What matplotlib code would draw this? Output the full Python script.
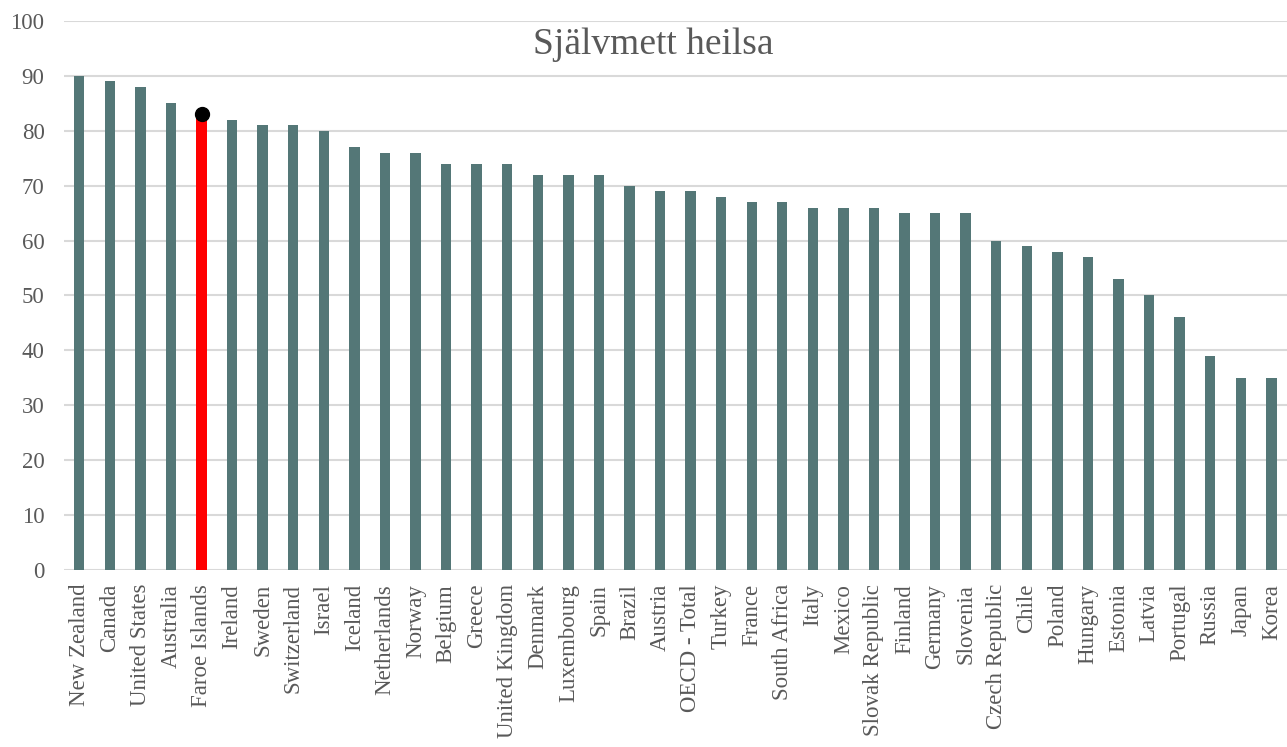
# Self-rated health bar chart, Faroe Islands highlighted
import numpy as np
import matplotlib.pyplot as plt

plt.rcParams['font.family'] = ['Liberation Serif', 'DejaVu Serif']

# Data
countries = ["New Zealand", "Canada", "United States", "Australia", "Faroe Islands",
             "Ireland", "Sweden", "Switzerland", "Israel", "Iceland", "Netherlands",
             "Norway", "Belgium", "Greece", "United Kingdom", "Denmark", "Luxembourg",
             "Spain", "Brazil", "Austria", "OECD - Total", "Turkey", "France",
             "South Africa", "Italy", "Mexico", "Slovak Republic", "Finland", "Germany",
             "Slovenia", "Czech Republic", "Chile", "Poland", "Hungary", "Estonia",
             "Latvia", "Portugal", "Russia", "Japan", "Korea"]
values = [90, 89, 88, 85, 83, 82, 81, 81, 80, 77, 76, 76, 74, 74, 74, 72, 72, 72,
          70, 69, 69, 68, 67, 67, 66, 66, 66, 65, 65, 65, 60, 59, 58, 57, 53, 50,
          46, 39, 35, 35]
highlight = "Faroe Islands"
y_ticks = [0, 10, 20, 30, 40, 50, 60, 70, 80, 90, 100]

text_col = "#595959"
bar_col = "#547777"

fig = plt.figure(figsize=(12.87, 7.47), dpi=100)
ax = fig.add_axes([0.0497, 0.237, 0.950, 0.735])

x = np.arange(len(countries))
colors = ["red" if c == highlight else bar_col for c in countries]
ax.bar(x, values, width=0.34, color=colors, zorder=3)

# Dot on top of the highlighted bar
i = countries.index(highlight)
ax.plot(x[i], values[i], "o", color="black", markersize=10, zorder=4)

ax.set_xlim(-0.5, len(countries) - 0.5)
ax.set_ylim(0, 100)
ax.set_yticks(y_ticks)
ax.set_xticks(x)
ax.set_xticklabels(countries, rotation=90, fontsize=16.5, color=text_col)
ax.tick_params(axis="y", labelsize=16.5, labelcolor=text_col, length=0, pad=14)
ax.tick_params(axis="x", length=0, pad=10)
ax.yaxis.grid(True, color="#D9D9D9", linewidth=1.5, zorder=0)
ax.set_axisbelow(True)
for s in ax.spines.values():
    s.set_visible(False)

ax.text(0.482, 0.94, "Självmett heilsa", transform=ax.transAxes, ha="center",
        va="baseline", fontsize=27, color=text_col)

plt.savefig("out.png", dpi=100)
